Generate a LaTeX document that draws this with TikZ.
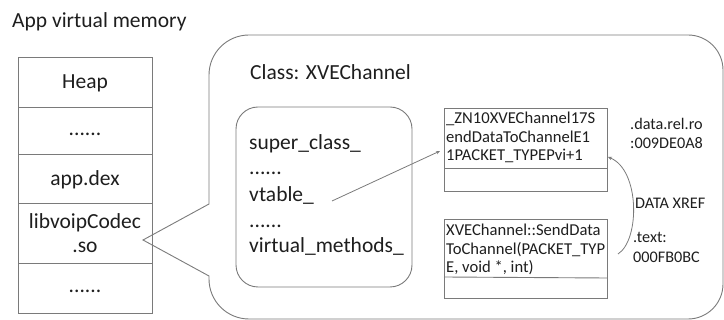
\documentclass[tikz,border=0pt]{standalone}
\usepackage{fontspec}
\setmainfont{Carlito}
\usetikzlibrary{arrows.meta}
\definecolor{linegray}{HTML}{7A7A7A}
\definecolor{txt}{HTML}{1E1E1E}
\tikzset{
  lbl/.style={inner sep=0pt, text=txt, font=\fontsize{21.5}{24}\selectfont},
  small/.style={inner sep=0pt, text=txt, font=\fontsize{16.6}{19}\selectfont},
  addr/.style={inner sep=0pt, text=txt, font=\fontsize{16.2}{19}\selectfont},
  frame/.style={draw=linegray, line width=0.9pt},
  ptr/.style={draw=linegray, line width=0.8pt, -{Stealth[length=4pt,width=3.5pt]}},
}
\begin{document}
\begin{tikzpicture}[x=1pt,y=-1pt]
\useasboundingbox (0,0) rectangle (724,320);

% title
\node[lbl, anchor=base west] (title) at (12,28) {App virtual memory};

% memory map stack
\draw[frame] (18,57) rectangle (152,313);
\foreach \yy in {107,154,203,263} \draw[frame] (18,\yy) -- (152,\yy);
\node[lbl, anchor=base] (heap) at (85,89) {Heap};
\node[lbl, anchor=base] (dots1) at (85,136) {......};
\node[lbl, anchor=base] (dex) at (85,186) {app.dex};
\node[lbl, anchor=base] (lib) at (85,229) {libvoipCodec};
\node[lbl, anchor=base] (libso) at (85,253) {.so};
\node[lbl, anchor=base] (dots2) at (85,293) {......};

% callout for the library
\coordinate (tip) at (143,240);
\draw[frame] (209,204) -- (209,75) arc[start angle=180, end angle=270, radius=40]
  -- (688,35) arc[start angle=270, end angle=360, radius=35]
  -- (723,284) arc[start angle=0, end angle=90, radius=35]
  -- (249,319) arc[start angle=90, end angle=180, radius=40]
  -- (209,276) -- (tip) -- cycle;

\node[lbl, anchor=base west] (cls) at (250,80) {Class: XVEChannel};

% class layout
\draw[frame, rounded corners=22pt] (236,107) rectangle (412,287);
\node[lbl, anchor=base west] (f1) at (249,150) {super\_class\_};
\node[lbl, anchor=base west] (f2) at (249,175) {......};
\node[lbl, anchor=base west] (f3) at (249,202) {vtable\_};
\node[lbl, anchor=base west] (f4) at (249,228) {......};
\node[lbl, anchor=base west] (f5) at (249,253) {virtual\_methods\_};

% vtable entry
\node[draw=linegray, line width=0.9pt, minimum width=163pt, minimum height=83pt, inner sep=0pt, anchor=north west] (vt) at (444,108) {};
\draw[frame] (444,168) -- (607,168);
\node[small, anchor=base west] (vtx) at (446,124) {\_ZN10XVEChannel17S};
\node[small, anchor=base west] (vtx2) at (446,143) {endDataToChannelE1};
\node[small, anchor=base west] (vtx3) at (446,161) {1PACKET\_TYPEPvi+1};

% method
\node[draw=linegray, line width=0.9pt, minimum width=163pt, minimum height=79pt, inner sep=0pt, anchor=north west] (mt) at (444,219) {};
\draw[frame] (444,277) -- (607,278);
\node[small, anchor=base west] (mtx) at (446,236) {XVEChannel::SendData};
\node[small, anchor=base west] (mtx2) at (446,255) {ToChannel(PACKET\_TYP};
\node[small, anchor=base west] (mtx3) at (446,273) {E, void *, int)};

% addresses
\node[addr, anchor=base west] (a1) at (630,130) {.data.rel.ro};
\node[addr, anchor=base west] (a2) at (630,149) {:009DE0A8};
\node[addr, anchor=base west] (xref) at (635,209) {DATA XREF};
\node[addr, anchor=base west] (a3) at (633,243) {.text:};
\node[addr, anchor=base west] (a4) at (633,263) {000FB0BC};

% pointers
\coordinate (vs) at (332,201);
\coordinate (vte) at (440,151);
\draw[ptr] (vs) -- (vte);
\coordinate (ms) at (618,254);
\coordinate (me) at (608,157);
\draw[ptr] (ms) .. controls (640,240) and (640,170) .. (me);
\end{tikzpicture}
\end{document}
